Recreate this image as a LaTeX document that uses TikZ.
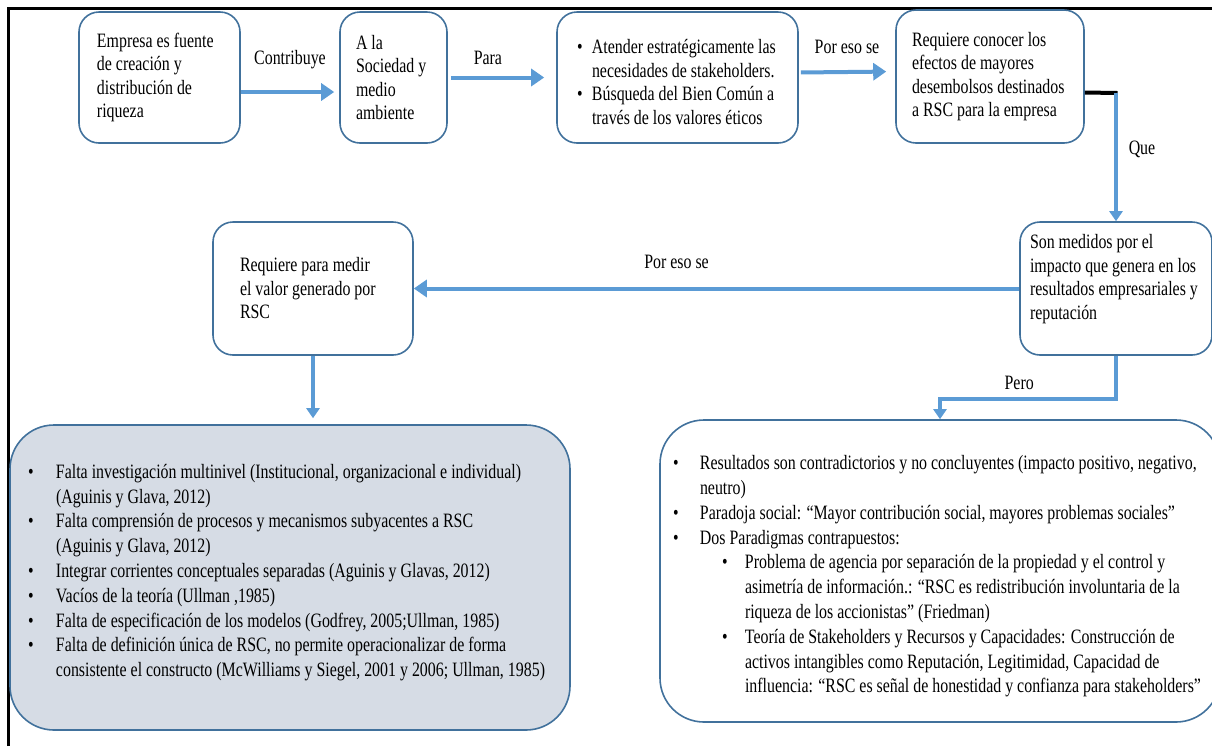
\documentclass[tikz,border=0pt]{standalone}
\usepackage{fontspec}
\setmainfont{Liberation Serif}[FakeStretch=0.78]
\usepackage{tikz}
\usetikzlibrary{arrows.meta,positioning,calc}
\definecolor{bordeazul}{RGB}{65,113,156}
\definecolor{flechazul}{RGB}{91,155,213}
\definecolor{grisazul}{RGB}{214,220,229}
\hyphenpenalty=10000
\exhyphenpenalty=10000
\newcommand\vineta[2]{\par\noindent\hangindent=#1\hangafter=1\makebox[#1][l]{\textbullet}#2\par}
\newcommand\subvineta[1]{\par\noindent\hangindent=36pt\hangafter=1\hspace*{24.5pt}\makebox[11.5pt][l]{\textbullet}#1\par}

\begin{document}
\begin{tikzpicture}[x=0.5pt,y=0.5pt,
    caja/.style={draw=bordeazul, line width=0.8pt, rounded corners=10pt, align=flush left,
                 inner ysep=2pt, font=\fontsize{10.2}{11.75}\selectfont},
    cajagrande/.style={caja, rounded corners=22pt, font=\fontsize{10.2}{12.4}\selectfont},
    flecha/.style={draw=flechazul, line width=2pt, -{Triangle[length=6.5pt,width=8.5pt]}},
    flechav/.style={flecha, line width=1.6pt, -{Triangle[length=5pt,width=6.5pt]}},
    etiq/.style={font=\fontsize{10.2}{11.75}\selectfont, inner sep=0pt}]
        \useasboundingbox (0,0) rectangle (1212,-746);
        \clip (0,0) rectangle (1212,-746);
        \draw[line width=1.5pt] (8,-746) -- (8,-8) -- (1212,-8);
        % fila de arriba
        \node[caja, minimum width=80.5pt, minimum height=65.5pt, inner xsep=9pt, text width=62.5pt]
             (empresa) at (159.5,-77.5) {Empresa es fuente\\ de creación y\\ distribución de\\ riqueza};
        \node[caja, minimum width=53.5pt, minimum height=65.5pt, inner xsep=8pt, text width=37.5pt]
             (sociedad) at (393.5,-77.5) {A la\\ Sociedad y\\ medio\\ ambiente};
        \node[caja, minimum width=120.5pt, minimum height=65.5pt, inner xsep=10pt, text width=100.5pt]
             (atender) at (677.5,-77.5)
             {\vineta{7.5pt}{Atender estratégicamente las\newline necesidades de stakeholders.}%
              \vineta{7.5pt}{Búsqueda del Bien Común a\newline través de los valores éticos}};
        \node[caja, minimum width=94pt, minimum height=66.5pt, inner xsep=8pt, text width=78pt]
             (conocer) at (990,-76.5) {Requiere conocer los\\ efectos de mayores\\ desembolsos destinados\\ a RSC para la empresa};
        % fila del medio
        \node[caja, minimum width=96pt, minimum height=66.5pt, inner xsep=5pt, text width=86pt]
             (medidos) at (1116,-288.5) {Son medidos por el\\ impacto que genera en los\\ resultados empresariales y\\ reputación\\ \mbox{}};
        \node[caja, minimum width=100pt, minimum height=66.5pt, inner xsep=13.5pt, text width=73pt]
             (medir) at (313,-288.5) {Requiere para medir\\ el valor generado por\\ RSC};
        % cajas de abajo
        \node[cajagrande, fill=grisazul, minimum width=280pt, minimum height=152.5pt, inner xsep=9pt, text width=262pt]
             (vacios) at (290,-577.5)
             {\vineta{14pt}{Falta investigación multinivel (Institucional, organizacional e individual)\newline (Aguinis y Glava, 2012)}%
              \vineta{14pt}{Falta comprensión de procesos y mecanismos subyacentes a RSC\newline (Aguinis y Glava, 2012)}%
              \vineta{14pt}{Integrar corrientes conceptuales separadas (Aguinis y Glavas, 2012)}%
              \vineta{14pt}{Vacíos de la teoría (Ullman ,1985)}%
              \vineta{14pt}{Falta de especificación de los modelos (Godfrey, 2005;Ullman, 1985)}%
              \vineta{14pt}{Falta de definición única de RSC, no permite operacionalizar de forma\newline consistente el constructo (McWilliams y Siegel, 2001 y 2006; Ullman, 1985)}%
              \mbox{}};
        \node[cajagrande, minimum width=280pt, minimum height=151pt, inner xsep=6.5pt, text width=267pt]
             (pero) at (940,-571)
             {\vineta{13.5pt}{Resultados son contradictorios y no concluyentes (impacto positivo, negativo,\newline neutro)}%
              \vineta{13.5pt}{Paradoja social: “Mayor contribución social, mayores problemas sociales”}%
              \vineta{13.5pt}{Dos Paradigmas contrapuestos:}%
              \subvineta{Problema de agencia por separación de la propiedad y el control y\newline asimetría de información.: “RSC es redistribución involuntaria de la\newline riqueza de los accionistas” (Friedman)}%
              \subvineta{Teoría de Stakeholders y Recursos y Capacidades: Construcción de\newline activos intangibles como Reputación, Legitimidad, Capacidad de\newline influencia: “RSC es señal de honestidad y confianza para stakeholders”}};
        % conectores
        \draw[flecha, shorten >=2.5pt] ([yshift=-7.25pt]empresa.east) --
             node[etiq, yshift=16pt] (lcontribuye) {Contribuye} ([yshift=-7.25pt]sociedad.west);
        \draw[flecha, shorten <=1.5pt, shorten >=6pt] (sociedad.east) --
             node[etiq, pos=.37, yshift=10pt] (lpara) {Para} (atender.west);
        \draw[flecha, shorten <=1pt, shorten >=4.5pt] ([yshift=2.5pt]atender.east) --
             node[etiq, yshift=12.5pt] (lporeso) {Por eso se} ([yshift=2.5pt]conocer.west);
        \coordinate (quiebre) at (1116,-93);
        \draw[line width=2pt] ([yshift=-8pt]conocer.east) -- ([xshift=0.8pt]quiebre);
        \draw[flechav] (quiebre) -- node[etiq, pos=.44, xshift=13pt] (lque) {Que} (medidos.north);
        \draw[flecha] (medidos.west) -- node[etiq, pos=.566, yshift=13.5pt] (lporeso2) {Por eso se} (medir.east);
        \draw[flechav, shorten >=3pt] (medir.south) -- (medir.south |- vacios.north);
        \coordinate (codo) at (1116,-399);
        \draw[flechav] (medidos.south) -- (codo) -- node[etiq, pos=.55, yshift=8pt] (lpero) {Pero}
             (codo -| pero.north) -- (pero.north);
      \end{tikzpicture}
\end{document}
